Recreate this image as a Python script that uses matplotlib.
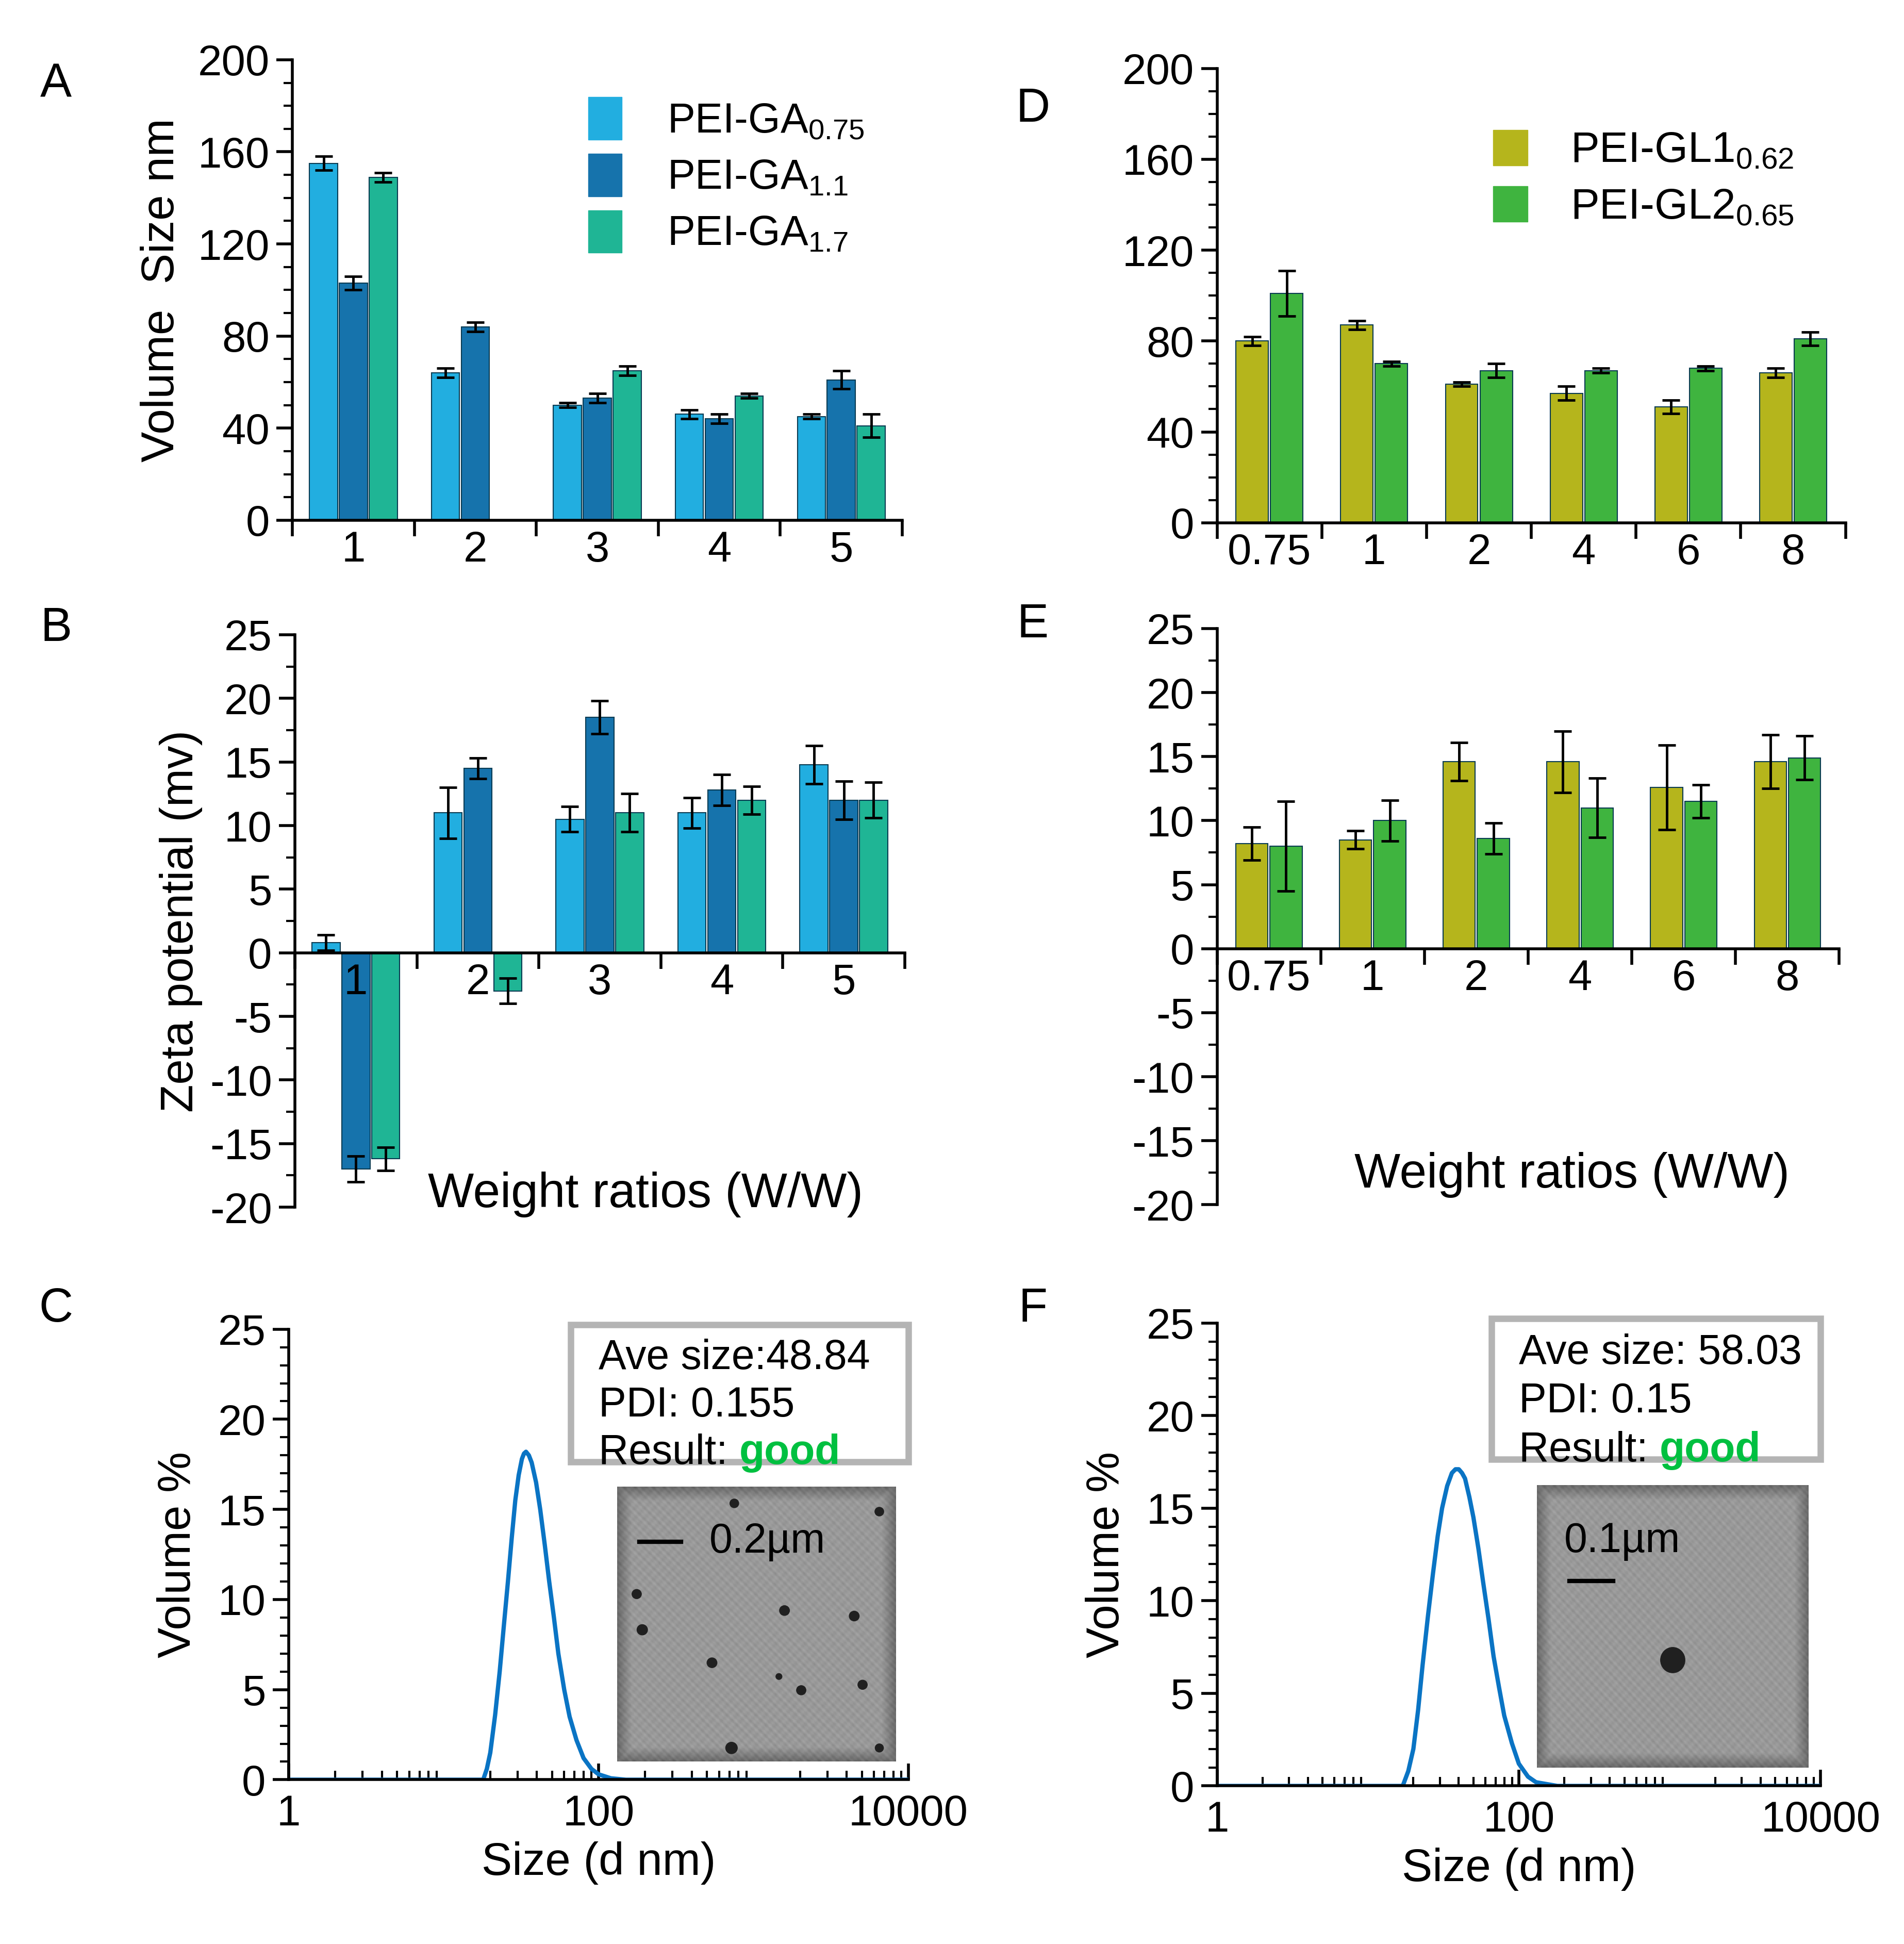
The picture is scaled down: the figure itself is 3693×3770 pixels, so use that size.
import numpy as np
import matplotlib.pyplot as plt
from matplotlib.patches import Rectangle, Circle
from matplotlib.ticker import MultipleLocator, FixedLocator, NullFormatter, LogLocator

plt.rcParams['font.family'] = ['Liberation Sans', 'DejaVu Sans']
plt.rcParams['mathtext.fontset'] = 'custom'
plt.rcParams['mathtext.rm'] = 'Liberation Sans'
plt.rcParams['axes.unicode_minus'] = False

# --- data ---
ga_groups = ['1', '2', '3', '4', '5']
ga_names = ['PEI-GA$_{0.75}$', 'PEI-GA$_{1.1}$', 'PEI-GA$_{1.7}$']
ga_colors = ['#22aee0', '#1673ac', '#1fb595']
size_ga = [[155, 64, 50, 46, 45],
           [103, 84, 53, 44, 61],
           [149, np.nan, 65, 54, 41]]
size_ga_err = [[3, 2, 1, 2, 1],
               [3, 2, 2, 2, 4],
               [2, 0, 2, 1, 5]]
zeta_ga = [[0.8, 11, 10.5, 11, 14.8],
           [-17, 14.5, 18.5, 12.8, 12],
           [-16.2, -3, 11, 12, 12]]
zeta_ga_err = [[0.6, 2, 1, 1.2, 1.5],
               [1, 0.8, 1.3, 1.2, 1.5],
               [0.9, 1, 1.5, 1.1, 1.4]]

gl_groups = ['0.75', '1', '2', '4', '6', '8']
gl_names = ['PEI-GL1$_{0.62}$', 'PEI-GL2$_{0.65}$']
gl_colors = ['#b5b51c', '#3fb43f']
size_gl = [[80, 87, 61, 57, 51, 66],
           [101, 70, 67, 67, 68, 81]]
size_gl_err = [[2, 2, 1, 3, 3, 2],
               [10, 1, 3, 1, 1, 3]]
zeta_gl = [[8.2, 8.5, 14.6, 14.6, 12.6, 14.6],
           [8, 10, 8.6, 11, 11.5, 14.9]]
zeta_gl_err = [[1.3, 0.7, 1.5, 2.4, 3.3, 2.1],
               [3.5, 1.6, 1.2, 2.3, 1.3, 1.7]]

dls_c_x = [1, 18, 19, 20, 21.5, 23, 24.5, 26, 27.5, 29, 30.5, 32, 33, 34, 35.5, 37, 39.5, 42,
           45, 48, 51.5, 55, 60, 65, 72, 80, 90, 100, 120, 150, 10000]
dls_c_y = [0, 0, 0.6, 1.5, 3.6, 6, 8.6, 11, 13.4, 15.5, 16.9, 17.8, 18.1, 18.2, 18.0, 17.6,
           16.5, 15, 13, 11, 9, 7, 5, 3.5, 2.2, 1.2, 0.6, 0.3, 0.08, 0, 0]
dls_f_x = [1, 17, 18.5, 20, 21.5, 23, 25, 27, 29, 31, 33.5, 36, 38, 40, 42, 44, 47, 50, 54,
           58, 63, 68, 74, 80, 90, 100, 115, 130, 180, 10000]
dls_f_y = [0, 0, 0.8, 2, 4.1, 6.5, 9.2, 11.5, 13.5, 15, 16.2, 16.9, 17.1, 17.1, 16.9, 16.6,
           15.6, 14.5, 12.8, 11, 9, 7, 5.3, 3.8, 2.3, 1.2, 0.5, 0.2, 0, 0]

info_c = ['Ave size:48.84', 'PDI: 0.155']
info_f = ['Ave size: 58.03', 'PDI: 0.15']
scale_c = '0.2µm'
scale_f = '0.1µm'
dots_c = [(0.42, 0.94, 0.016), (0.94, 0.91, 0.016), (0.07, 0.61, 0.017), (0.60, 0.55, 0.018),
          (0.85, 0.53, 0.018), (0.09, 0.48, 0.019), (0.34, 0.36, 0.018), (0.58, 0.31, 0.011),
          (0.66, 0.26, 0.017), (0.88, 0.28, 0.017), (0.41, 0.05, 0.021), (0.94, 0.05, 0.015)]
dots_f = [(0.50, 0.38, 0.045)]

W, H = 3693, 3770
fig = plt.figure(figsize=(W / 100, H / 100), dpi=100)
FS = 60


def frac(x0, y0, x1, y1):
    # display coords of the 1530x1562 preview to figure fractions
    return [x0 / 1530, 1 - y1 / 1562, (x1 - x0) / 1530, (y1 - y0) / 1562]


def style(ax):
    for s in ['top', 'right']:
        ax.spines[s].set_visible(False)
    for s in ['left', 'bottom']:
        ax.spines[s].set_linewidth(4)
    ax.tick_params(axis='y', which='major', length=22, width=4, labelsize=FS, pad=10)
    ax.tick_params(axis='y', which='minor', length=12, width=3)
    ax.tick_params(axis='x', which='major', length=0, labelsize=FS, pad=14)
    ax.tick_params(axis='x', which='minor', length=22, width=4)


def bars(ax, groups, vals, errs, colors, width, offs):
    x = np.arange(len(groups))
    for v, e, c, o in zip(vals, errs, colors, offs):
        ax.bar(x + o, v, width, color=c, edgecolor='#0a3b52', linewidth=1.5)
        ax.errorbar(x + o, v, yerr=e, fmt='none', ecolor='black', elinewidth=3.5, capsize=12, capthick=3.5)
    ax.set_xticks(x)
    ax.set_xticklabels(groups)
    ax.xaxis.set_minor_locator(FixedLocator(np.arange(len(groups) + 1) - 0.5))
    ax.set_xlim(-0.5, len(groups) - 0.5)


ga_offs = [-0.245, 0, 0.245]
gl_offs = [-0.165, 0.165]

# A
axA = fig.add_axes(frac(235, 48, 725, 418))
style(axA)
bars(axA, ga_groups, size_ga, size_ga_err, ga_colors, 0.23, ga_offs)
axA.set_ylim(0, 200)
axA.yaxis.set_major_locator(MultipleLocator(40))
axA.yaxis.set_minor_locator(MultipleLocator(10))
axA.set_ylabel('Volume  Size nm', fontsize=64, labelpad=20)
hA = [Rectangle((0, 0), 1, 1, color=c) for c in ga_colors]
axA.legend(hA, ga_names, loc='upper right', bbox_to_anchor=(1.0, 1.0), frameon=False,
           fontsize=58, handlelength=0.8, handleheight=1.2, labelspacing=0.3, handletextpad=1.1)

# B
axB = fig.add_axes(frac(237, 510, 727, 970))
style(axB)
bars(axB, ga_groups, zeta_ga, zeta_ga_err, ga_colors, 0.23, ga_offs)
axB.set_ylim(-20, 25)
axB.spines['bottom'].set_position(('data', 0))
axB.yaxis.set_major_locator(MultipleLocator(5))
axB.yaxis.set_minor_locator(MultipleLocator(2.5))
axB.set_ylabel('Zeta potential (mv)', fontsize=64, labelpad=10)
axB.text(0.575, 0.0, 'Weight ratios (W/W)', transform=axB.transAxes, ha='center', fontsize=68)

# D
axD = fig.add_axes(frac(978, 55, 1483, 420))
style(axD)
bars(axD, gl_groups, size_gl, size_gl_err, gl_colors, 0.31, gl_offs)
axD.set_ylim(0, 200)
axD.yaxis.set_major_locator(MultipleLocator(40))
axD.yaxis.set_minor_locator(MultipleLocator(10))
hD = [Rectangle((0, 0), 1, 1, color=c) for c in gl_colors]
axD.legend(hD, gl_names, loc='upper right', bbox_to_anchor=(0.98, 0.95), frameon=False,
           fontsize=60, handlelength=0.8, handleheight=0.9, labelspacing=0.35, handletextpad=1.0)

# E
axE = fig.add_axes(frac(978, 505, 1478, 968))
style(axE)
bars(axE, gl_groups, zeta_gl, zeta_gl_err, gl_colors, 0.31, gl_offs)
axE.set_ylim(-20, 25)
axE.spines['bottom'].set_position(('data', 0))
axE.yaxis.set_major_locator(MultipleLocator(5))
axE.yaxis.set_minor_locator(MultipleLocator(2.5))
axE.text(0.57, 0.03, 'Weight ratios (W/W)', transform=axE.transAxes, ha='center', fontsize=68)


def dls(rect, xs, ys, info, scale, dots, bar_pos, txt_pos):
    ax = fig.add_axes(rect)
    style(ax)
    ax.plot(xs, ys, color='#0a74c4', lw=6)
    ax.set_xscale('log')
    ax.set_xlim(1, 10000)
    ax.set_ylim(0, 25)
    ax.set_xticks([1, 100, 10000])
    ax.set_xticklabels(['1', '100', '10000'])
    ax.xaxis.set_minor_locator(LogLocator(base=10, subs=np.arange(2, 10), numticks=20))
    ax.xaxis.set_minor_formatter(NullFormatter())
    ax.tick_params(axis='x', which='major', length=22, width=4, pad=20, direction='in')
    ax.tick_params(axis='x', which='minor', length=12, width=3, direction='in')
    ax.yaxis.set_major_locator(MultipleLocator(5))
    ax.yaxis.set_minor_locator(MultipleLocator(1))
    ax.set_xlabel('Size (d nm)', fontsize=64, labelpad=10)
    ax.set_ylabel('Volume %', fontsize=64, labelpad=25)
    # info box
    ax.add_patch(Rectangle((0.455, 0.705), 0.545, 0.305, transform=ax.transAxes, facecolor='white',
                           edgecolor='#b4b4b4', lw=9, clip_on=False))
    ax.text(0.5, 0.935, info[0], transform=ax.transAxes, fontsize=58, va='center')
    ax.text(0.5, 0.83, info[1], transform=ax.transAxes, fontsize=58, va='center')
    t = ax.text(0.5, 0.725, 'Result: ', transform=ax.transAxes, fontsize=58, va='center')
    ax.annotate('good', xycoords=t, xy=(1, 0), va='bottom', fontsize=58, color='#00c040',
                fontweight='bold')
    # TEM picture
    ins = ax.inset_axes([0.53, 0.04, 0.45, 0.61])
    yy, xx = np.mgrid[0:200, 0:200] / 199.0
    img = 0.6 + 0.03 * np.sin(xx * 180) * np.cos(yy * 170) + 0.02 * np.sin((xx + yy) * 300)
    edge = np.minimum(np.minimum(xx, 1 - xx), np.minimum(yy, 1 - yy))
    img = img - 0.18 * np.clip(1 - edge / 0.05, 0, 1)
    ins.imshow(img, cmap='gray', vmin=0, vmax=1, extent=[0, 1, 0, 1], origin='lower', aspect='auto')
    for (dx, dy, r) in dots:
        ins.add_patch(Circle((dx, dy), r, color='#202020'))
    ins.plot(bar_pos[0], bar_pos[1], color='black', lw=6)
    ins.text(txt_pos[0], txt_pos[1], scale, fontsize=58, va='center')
    ins.set_xlim(0, 1)
    ins.set_ylim(0, 1)
    ins.set_xticks([])
    ins.set_yticks([])
    for s in ins.spines.values():
        s.set_visible(False)
    return ax


axC = dls(frac(232, 1068, 730, 1430), dls_c_x, dls_c_y, info_c, scale_c, dots_c,
          ([0.08, 0.23], [0.80, 0.80]), (0.33, 0.80))
axF = dls(frac(978, 1063, 1463, 1435), dls_f_x, dls_f_y, info_f, scale_f, dots_f,
          ([0.12, 0.28], [0.66, 0.66]), (0.10, 0.80))

for lab, x, y in [('A', 45, 68), ('B', 45, 505), ('C', 45, 1052), ('D', 830, 88),
                  ('E', 830, 502), ('F', 830, 1052)]:
    fig.text(x / 1530, 1 - y / 1562, lab, fontsize=66, ha='center', va='center')

fig.savefig('out.png', dpi=100)
